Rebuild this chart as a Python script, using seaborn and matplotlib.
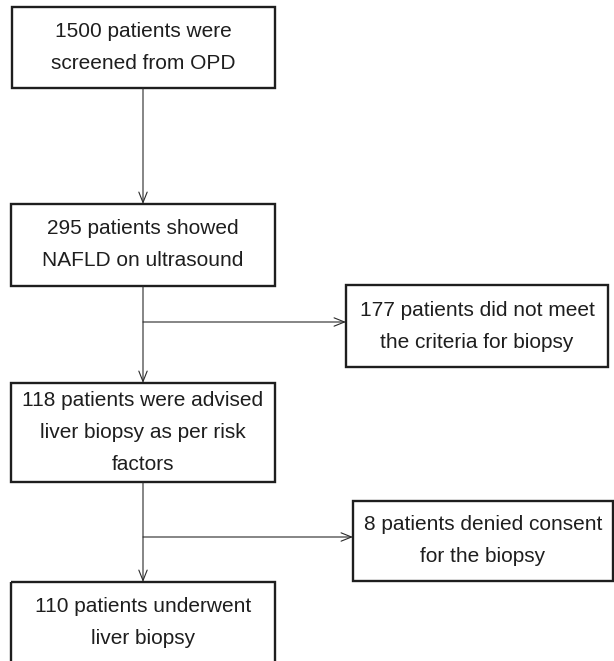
"""
Patient selection flowchart (NAFLD liver biopsy study)
"""

import matplotlib
matplotlib.use("Agg")
import matplotlib.pyplot as plt
from matplotlib.patches import Rectangle, FancyArrowPatch
import seaborn as sns

# box texts, one list of lines per box
box_labels = [
    ["1500 patients were", "screened from OPD"],
    ["295 patients showed", "NAFLD on ultrasound"],
    ["177 patients did not meet", "the criteria for biopsy"],
    ["118 patients were advised", "liver biopsy as per risk", "factors"],
    ["8 patients denied consent", "for the biopsy"],
    ["110 patients underwent", "liver biopsy"],
]

# layout (pixels, y down): left, top, right, bottom
box_left = [12, 11, 346, 11, 353, 11]
box_top = [7, 204, 285, 383, 501, 582]
box_right = [275, 275, 608, 275, 613, 275]
box_bottom = [88, 286, 367, 482, 581, 664]

# main column arrows and side branches
main_x = 143
branch_y = [322, 537]
branch_to = [2, 4]

LINE_GAP = 32
TEXT_COLOR = "#1e1e1e"
EDGE_COLOR = "#1e1e1e"

sns.set_theme(style="white")
plt.rcParams["font.family"] = ["Liberation Sans", "DejaVu Sans"]

fig = plt.figure(figsize=(6.14, 6.61), dpi=100)
ax = fig.add_axes([0, 0, 1, 1])
ax.set_xlim(0, 614)
ax.set_ylim(661, 0)
ax.axis("off")


def arrow(x0, y0, x1, y1):
    a = FancyArrowPatch((x0, y0), (x1, y1),
                        arrowstyle="->,head_length=7.5,head_width=3",
                        mutation_scale=1, shrinkA=0, shrinkB=0,
                        lw=0.8, color="#2a2a2a")
    ax.add_patch(a)


# boxes and text
for i, lines in enumerate(box_labels):
    l, t, r, b = box_left[i], box_top[i], box_right[i], box_bottom[i]
    ax.add_patch(Rectangle((l, t), r - l, b - t, fill=False,
                           ec=EDGE_COLOR, lw=1.7, clip_on=True))
    cx = (l + r) / 2
    # last box runs off the page; centre its text in a standard-height box
    cy = (t + min(b, t + 82)) / 2 if i == len(box_labels) - 1 else (t + b) / 2
    n = len(lines)
    for k, line in enumerate(lines):
        y = cy + (k - (n - 1) / 2) * LINE_GAP
        ax.text(cx, y, line, ha="center", va="center", fontsize=15,
                color=TEXT_COLOR)

# vertical arrows down the main column
arrow(main_x, box_bottom[0], main_x, box_top[1])
arrow(main_x, box_bottom[1], main_x, box_top[3])
arrow(main_x, box_bottom[3], main_x, box_top[5])

# side branches to the exclusion boxes
for y, j in zip(branch_y, branch_to):
    arrow(main_x, y, box_left[j], y)

fig.savefig("out.png", dpi=100)
